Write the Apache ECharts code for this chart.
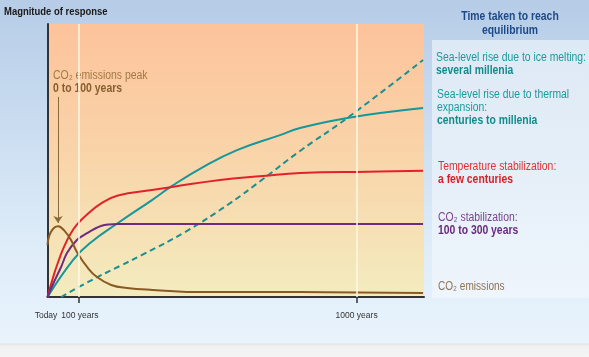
<!DOCTYPE html>
<html><head><meta charset="utf-8">
<script src="https://cdn.jsdelivr.net/npm/echarts@6/dist/echarts.min.js"></script>
<style>
html,body{margin:0;padding:0;}
body{width:589px;height:357px;overflow:hidden;background:linear-gradient(180deg,#b6cce7 0px,#c9dcf0 120px,#dfedf9 250px,#e8f3fc 343px,#e2e2e2 344px,#f1f1f1 346px,#f4f4f4 357px);}
#c{width:589px;height:357px;}
</style></head><body>
<div id="c"></div>
<script>
// ---- data (years since today, magnitude of response 0-100) ----
const tickYears = [100, 1000];
const labelYears = [0, 100, 1000];
const tickLabels = {0: 'Today', 100: '100 years', 1000: '1000 years'};

const co2EmYears  = [0, 11, 34, 53, 76, 95, 128, 160, 206, 257, 341, 504, 817, 1215];
const co2EmValues = [19, 23.8, 25.9, 24.5, 20.9, 16.5, 11, 7.3, 4.4, 3.3, 2.6, 1.8, 1.8, 1.5];

const co2StabYears  = [0, 21, 44, 63, 95, 121, 173, 228, 400, 700, 1000, 1215];
const co2StabValues = [0, 5.5, 11, 16.1, 20.9, 22.9, 26, 26.7, 26.7, 26.7, 26.7, 26.7];

const tempYears  = [0, 21, 37, 53, 76, 95, 128, 176, 228, 338, 403, 558, 697, 817, 1035, 1215];
const tempValues = [0, 8.3, 13.6, 18.3, 23.4, 26.5, 30.2, 34.5, 37.2, 39.2, 40.3, 42.9, 44.3, 45.4, 45.9, 46.2];

const thermYears  = [0, 83, 138, 228, 338, 403, 503, 613, 752, 817, 970, 1215];
const thermValues = [0, 13.6, 19.8, 27.1, 35.5, 40.7, 47.6, 53.8, 59.3, 61.9, 65.6, 69.2];

const iceYears  = [44, 138, 235, 306, 445, 591, 697, 817, 970, 1215];
const iceValues = [0, 5.9, 11.4, 15.4, 23.8, 34.4, 43.2, 53.5, 65.6, 86.8];

const peakArrow = {year: 34, from: 73.3, to: 27.1};

const zip = (xs, ys) => xs.map((x, i) => [x, ys[i]]);

const chart = echarts.init(document.getElementById('c'), null, {renderer: 'canvas'});
const FONT = '"Liberation Sans", Arial, sans-serif';

const lineSeries = (name, xs, ys, color, dashed, smooth) => ({
  name, type: 'line', data: zip(xs, ys), showSymbol: false, smooth: smooth || 0.45,
  silent: true,
  lineStyle: {color, width: 2, type: dashed ? [6, 4] : 'solid'},
  z: 3
});

const rich2 = (c1, c2) => ({
  n: {fontFamily: FONT, fontSize: 12, fill: c1, lineHeight: 13},
  b: {fontFamily: FONT, fontSize: 12, fontWeight: 'bold', fill: c2, lineHeight: 13}
});
const sx = 0.865;

chart.setOption({
  backgroundColor: 'transparent',
  animation: false,
  grid: {
    left: 47.5, top: 24, right: 165, bottom: 60, show: true, borderWidth: 0,
    backgroundColor: new echarts.graphic.LinearGradient(0, 0, 0, 1, [
      {offset: 0, color: '#fdc39b'},
      {offset: 0.5, color: '#f9d5aa'},
      {offset: 1, color: '#f3ecbf'}
    ])
  },
  xAxis: {
    type: 'value', min: 0, max: 1218,
    axisLine: {show: true, onZero: false, lineStyle: {color: '#333', width: 2}},
    axisTick: {show: true, customValues: tickYears, length: 6, lineStyle: {color: '#333', width: 1.5}},
    axisLabel: {
      show: true, customValues: labelYears, margin: 14, showMinLabel: true, hideOverlap: false,
      formatter: v => v === 0 ? '{t|Today}' : (v === 100 ? '{h|100 years}' : tickLabels[v] || ''),
      fontFamily: FONT, fontSize: 8.5, color: '#333',
      rich: {
        t: {fontFamily: FONT, fontSize: 8.5, color: '#333', padding: [0, 3, 0, 0]},
        h: {fontFamily: FONT, fontSize: 8.5, color: '#333', padding: [0, 0, 0, 3]}
      }
    },
    splitLine: {show: false}
  },
  yAxis: {
    type: 'value', min: 0, max: 100,
    axisLine: {show: true, lineStyle: {color: '#333', width: 2}},
    axisTick: {show: false}, axisLabel: {show: false}, splitLine: {show: false}
  },
  series: [
    {
      name: 'guides', type: 'line', data: [], silent: true,
      markLine: {
        silent: true, symbol: 'none', label: {show: false},
        lineStyle: {color: '#fff8e6', width: 1.5, type: 'solid'},
        data: tickYears.map(y => ({xAxis: y}))
      },
      z: 1
    },
    lineSeries('Sea-level rise due to ice melting', iceYears, iceValues, '#1b8f90', true),
    lineSeries('Sea-level rise due to thermal expansion', thermYears, thermValues, '#16979a', false),
    lineSeries('Temperature stabilization', tempYears, tempValues, '#e2222b', false),
    lineSeries('CO2 stabilization', co2StabYears, co2StabValues, '#6d2b82', false, 0.3),
    Object.assign(lineSeries('CO2 emissions', co2EmYears, co2EmValues, '#8a5a22', false), {
      markLine: {
        silent: true, symbol: ['none', 'arrow'], symbolSize: 7,
        label: {show: false},
        lineStyle: {color: '#8a6a3a', width: 1, type: 'solid'},
        data: [[{coord: [peakArrow.year, peakArrow.from]}, {coord: [peakArrow.year, peakArrow.to]}]]
      }
    })
  ],
  graphic: [
    {type: 'rect', left: 432, top: 40, shape: {width: 157, height: 258},
     style: {fill: new echarts.graphic.LinearGradient(0, 0, 0, 1, [
       {offset: 0, color: '#dde9f5'}, {offset: 1, color: '#eef5fc'}])}, z: -1},
    {type: 'text', x: 4, y: 6, scaleX: 0.86,
     style: {text: 'Magnitude of response', font: 'bold 11px ' + FONT, fill: '#1a1a1a'}},
    {type: 'text', x: 510, y: 9, scaleX: 0.8,
     style: {text: 'Time taken to reach\nequilibrium', font: 'bold 13px ' + FONT, fill: '#1d4a86',
       lineHeight: 14, align: 'center'}},
    {type: 'text', x: 53, y: 69, scaleX: 0.87,
     style: {text: '{n|CO₂ emissions peak}\n{b|0 to 100 years}', rich: rich2('#a17a45', '#86602f')}},
    {type: 'text', x: 436, y: 51, scaleX: sx,
     style: {text: '{n|Sea-level rise due to ice melting:}\n{b|several millenia}', rich: rich2('#1b9a9a', '#148a8a')}},
    {type: 'text', x: 437, y: 88, scaleX: sx,
     style: {text: '{n|Sea-level rise due to thermal}\n{n|expansion:}\n{b|centuries to millenia}', rich: rich2('#1b9a9a', '#148a8a')}},
    {type: 'text', x: 438, y: 160, scaleX: sx,
     style: {text: '{n|Temperature stabilization:}\n{b|a few centuries}', rich: rich2('#e0303a', '#d8202a')}},
    {type: 'text', x: 438, y: 211, scaleX: sx,
     style: {text: '{n|CO₂ stabilization:}\n{b|100 to 300 years}', rich: rich2('#7a3f8c', '#6a2a7e')}},
    {type: 'text', x: 438, y: 281, scaleX: 0.84,
     style: {text: 'CO₂ emissions', font: '12px ' + FONT, fill: '#8c7257'}}
  ]
});
</script>
</body></html>
